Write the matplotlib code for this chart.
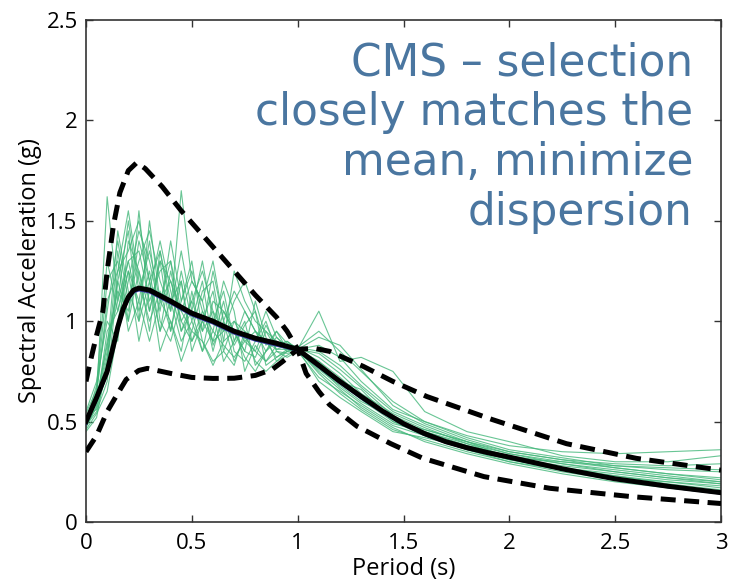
import numpy as np
import matplotlib
matplotlib.use("Agg")
import matplotlib.pyplot as plt

########################################################################
# data
########################################################################
# periods for the selected ground motion spectra
rec_periods = [0, 0.05, 0.1, 0.15, 0.2, 0.25, 0.3, 0.35, 0.4, 0.45, 0.5, 0.55,
               0.6, 0.65, 0.7, 0.75, 0.8, 0.85, 0.9, 0.95, 1.0, 1.1, 1.2, 1.3,
               1.45, 1.6, 1.8, 2.0, 2.25, 2.5, 2.75, 3.0]

rec01 = [0.50, 0.62, 1.62, 1.10, 1.30, 1.05, 1.25, 0.95, 1.10, 0.90, 1.00, 0.85, 0.95, 0.88, 0.82, 0.90,
         0.85, 0.80, 0.88, 0.90, 0.86, 0.80, 0.72, 0.63, 0.52, 0.45, 0.38, 0.33, 0.27, 0.23, 0.19, 0.16]
rec02 = [0.48, 0.55, 0.70, 1.20, 1.45, 1.00, 1.50, 1.10, 1.20, 1.00, 1.10, 1.25, 1.05, 0.95, 1.00, 0.90,
         0.95, 0.85, 0.92, 0.87, 0.87, 0.95, 0.85, 0.75, 0.60, 0.50, 0.42, 0.36, 0.32, 0.28, 0.26, 0.25]
rec03 = [0.45, 0.52, 0.80, 1.35, 1.00, 1.55, 1.05, 1.30, 0.95, 1.20, 0.85, 1.00, 0.90, 1.10, 0.85, 0.80,
         0.90, 1.00, 0.85, 0.82, 0.85, 0.72, 0.65, 0.58, 0.48, 0.43, 0.36, 0.30, 0.25, 0.21, 0.18, 0.15]
rec04 = [0.55, 0.70, 1.00, 0.90, 1.40, 1.25, 0.95, 1.35, 1.05, 1.65, 1.20, 1.10, 1.30, 1.00, 1.15, 1.05,
         0.95, 0.90, 0.82, 0.85, 0.86, 1.05, 0.80, 0.82, 0.75, 0.55, 0.45, 0.40, 0.33, 0.30, 0.30, 0.33]
rec05 = [0.52, 0.60, 0.85, 1.45, 1.15, 1.00, 1.20, 0.85, 1.00, 0.80, 0.95, 0.90, 0.80, 0.85, 0.78, 0.95,
         0.80, 0.75, 0.80, 0.83, 0.86, 0.75, 0.66, 0.57, 0.47, 0.40, 0.34, 0.29, 0.24, 0.20, 0.17, 0.14]
rec06 = [0.47, 0.58, 0.95, 1.05, 1.30, 1.35, 1.10, 1.25, 1.30, 1.05, 0.95, 1.15, 1.20, 0.90, 1.25, 1.10,
         1.00, 0.95, 0.90, 0.88, 0.87, 0.85, 0.78, 0.68, 0.55, 0.48, 0.40, 0.34, 0.29, 0.25, 0.22, 0.20]
rec07 = [0.50, 0.65, 1.20, 1.30, 0.95, 1.10, 1.40, 1.00, 0.90, 1.10, 1.30, 0.95, 1.05, 0.80, 0.90, 1.00,
         0.78, 0.85, 0.95, 0.86, 0.85, 0.78, 0.70, 0.66, 0.50, 0.46, 0.40, 0.32, 0.30, 0.27, 0.24, 0.22]
rec08 = [0.53, 0.56, 0.75, 1.00, 1.25, 0.90, 1.15, 1.40, 1.15, 0.95, 1.05, 0.85, 1.10, 1.05, 0.95, 0.85,
         1.10, 0.92, 0.80, 0.85, 0.86, 0.70, 0.62, 0.55, 0.45, 0.42, 0.37, 0.31, 0.27, 0.24, 0.21, 0.19]
rec09 = [0.49, 0.63, 1.10, 1.25, 1.55, 1.20, 1.00, 1.15, 0.95, 1.25, 1.00, 1.20, 0.88, 1.00, 0.80, 0.92,
         0.85, 0.98, 0.88, 0.90, 0.86, 0.92, 0.88, 0.76, 0.58, 0.49, 0.41, 0.35, 0.31, 0.27, 0.24, 0.21]
rec10 = [0.51, 0.60, 0.90, 1.15, 1.05, 1.40, 1.20, 0.95, 1.25, 1.00, 0.90, 1.05, 0.95, 1.20, 1.05, 0.75,
         0.88, 0.80, 0.85, 0.84, 0.85, 0.76, 0.68, 0.60, 0.52, 0.44, 0.38, 0.33, 0.29, 0.26, 0.23, 0.20]
rec11 = [0.46, 0.54, 0.65, 0.95, 1.20, 1.45, 1.30, 1.05, 1.40, 1.10, 1.25, 1.05, 0.90, 0.95, 1.10, 1.20,
         1.05, 0.88, 0.95, 0.89, 0.87, 0.82, 0.74, 0.64, 0.54, 0.47, 0.39, 0.34, 0.30, 0.28, 0.27, 0.26]
rec12 = [0.50, 0.68, 1.30, 1.05, 1.25, 1.10, 0.90, 1.10, 1.00, 0.85, 1.15, 0.90, 0.78, 0.90, 0.95, 0.82,
         0.75, 0.85, 0.90, 0.85, 0.86, 0.74, 0.64, 0.56, 0.46, 0.41, 0.35, 0.30, 0.26, 0.22, 0.20, 0.18]
rec13 = [0.54, 0.66, 1.05, 1.40, 1.10, 1.30, 1.45, 1.20, 1.05, 1.35, 1.05, 1.30, 1.00, 1.15, 0.90, 1.05,
         0.95, 0.90, 0.86, 0.88, 0.86, 0.88, 0.82, 0.70, 0.56, 0.50, 0.43, 0.38, 0.35, 0.34, 0.35, 0.36]
rec14 = [0.48, 0.57, 0.78, 1.25, 1.35, 1.50, 1.20, 1.35, 1.10, 1.20, 0.90, 1.00, 1.15, 0.85, 1.00, 0.95,
         0.90, 1.05, 0.92, 0.87, 0.86, 0.80, 0.70, 0.61, 0.50, 0.43, 0.36, 0.31, 0.26, 0.23, 0.20, 0.17]
rec15 = [0.52, 0.61, 0.88, 1.10, 1.50, 1.15, 1.35, 1.10, 1.30, 0.95, 1.10, 0.95, 1.25, 1.00, 0.88, 0.98,
         1.05, 0.78, 0.82, 0.86, 0.85, 0.77, 0.67, 0.59, 0.49, 0.45, 0.39, 0.32, 0.28, 0.25, 0.22, 0.19]
rec16 = [0.49, 0.59, 0.82, 1.20, 1.00, 1.25, 1.05, 1.30, 1.20, 1.05, 1.20, 1.10, 0.85, 1.05, 0.95, 0.85,
         0.82, 0.95, 0.86, 0.86, 0.86, 0.84, 0.76, 0.67, 0.53, 0.46, 0.40, 0.35, 0.31, 0.29, 0.28, 0.29]

records = [rec01, rec02, rec03, rec04, rec05, rec06, rec07, rec08,
           rec09, rec10, rec11, rec12, rec13, rec14, rec15, rec16]

# conditional mean spectrum
mean_periods = [0, 0.05, 0.1, 0.13, 0.15, 0.175, 0.2, 0.225, 0.25, 0.3, 0.4, 0.5, 0.6, 0.7, 0.8, 0.9,
                1.0, 1.1, 1.2, 1.3, 1.4, 1.5, 1.6, 1.7, 1.8, 1.9, 2.0, 2.25, 2.5, 2.75, 3.0]
cms_mean = [0.50, 0.62, 0.75, 0.88, 0.97, 1.06, 1.12, 1.155, 1.165, 1.155, 1.10, 1.04, 1.00, 0.95,
            0.915, 0.89, 0.86, 0.78, 0.70, 0.625, 0.553, 0.49, 0.44, 0.40, 0.37, 0.345, 0.323,
            0.265, 0.215, 0.178, 0.146]
# mean of the selected records (thin blue line under the black one)
sel_mean = [0.49, 0.61, 0.74, 0.87, 0.96, 1.05, 1.11, 1.145, 1.155, 1.145, 1.09, 1.03, 0.99, 0.94,
            0.905, 0.88, 0.855, 0.773, 0.693, 0.618, 0.547, 0.485, 0.435, 0.396, 0.366, 0.341,
            0.319, 0.262, 0.212, 0.175, 0.143]

# mean +/- 2 sigma
upper_periods = [0, 0.025, 0.05, 0.08, 0.1, 0.13, 0.16, 0.2, 0.24, 0.28, 0.36, 0.45, 0.6, 0.7,
                 0.8, 0.9, 0.95, 1.0, 1.08, 1.15, 1.31, 1.45, 1.61, 1.92, 2.27, 2.6, 3.0]
upper = [0.70, 0.82, 0.93, 1.05, 1.25, 1.48, 1.64, 1.75, 1.79, 1.76, 1.67, 1.55, 1.37, 1.25,
         1.13, 1.02, 0.95, 0.86, 0.865, 0.85, 0.775, 0.70, 0.625, 0.51, 0.39, 0.317, 0.258]
lower_periods = [0, 0.05, 0.1, 0.15, 0.19, 0.25, 0.29, 0.4, 0.5, 0.6, 0.7, 0.8, 0.88, 0.93, 1.0,
                 1.04, 1.1, 1.15, 1.28, 1.44, 1.59, 1.88, 2.19, 2.58, 3.0]
lower = [0.35, 0.43, 0.55, 0.64, 0.71, 0.755, 0.765, 0.74, 0.72, 0.715, 0.716, 0.73, 0.76, 0.80, 0.86,
         0.74, 0.65, 0.585, 0.477, 0.39, 0.318, 0.226, 0.168, 0.126, 0.092]

xticks = [0, 0.5, 1, 1.5, 2, 2.5, 3]
yticks = [0, 0.5, 1, 1.5, 2, 2.5]
note = "CMS – selection\nclosely matches the\nmean, minimize\ndispersion"

########################################################################
# figure
########################################################################
tick_font = ['Liberation Sans Narrow', 'DejaVu Sans Condensed', 'Open Sans']

fig = plt.figure(figsize=(7.3, 5.82), dpi=100)
ax = fig.add_axes([0.1178, 0.1031, 0.8699, 0.8625])

for rec in records:
    ax.plot(rec_periods, rec, color='#43b77a', lw=0.8, alpha=0.8, zorder=2)

ax.plot(upper_periods, upper, color='black', lw=3.6, dashes=(3, 1.7),
        dash_capstyle='butt', zorder=3)
ax.plot(lower_periods, lower, color='black', lw=3.6, dashes=(3, 1.7),
        dash_capstyle='butt', zorder=3)
ax.plot(mean_periods, sel_mean, color='#3a3fa8', lw=2.0, zorder=4)
ax.plot(mean_periods, cms_mean, color='black', lw=3.6, zorder=5,
        solid_joinstyle='round')

ax.set_xlim(0, 3)
ax.set_ylim(0, 2.5)
ax.set_xticks(xticks)
ax.set_xticklabels([f'{t:g}' for t in xticks], family=tick_font, fontsize=16)
ax.set_yticks(yticks)
ax.set_yticklabels([f'{t:g}' for t in yticks], family=tick_font, fontsize=16)
ax.tick_params(direction='in', length=5, width=1, top=True, right=True,
               color='#333333')
ax.tick_params(axis='x', pad=8)
ax.tick_params(axis='y', pad=6)
for s in ax.spines.values():
    s.set_color('#333333')
    s.set_linewidth(1.2)

ax.set_xlabel('Period (s)', family=tick_font, fontsize=17, labelpad=2)
ax.set_ylabel('Spectral Acceleration (g)', family=tick_font, fontsize=17, labelpad=3)

fig.text(693 / 730, 1 - 41 / 582, note, ha='right', va='top', fontsize=31.5,
         color='#4a76a0', linespacing=1.21, family='DejaVu Sans')

fig.savefig('out.png', dpi=100)
